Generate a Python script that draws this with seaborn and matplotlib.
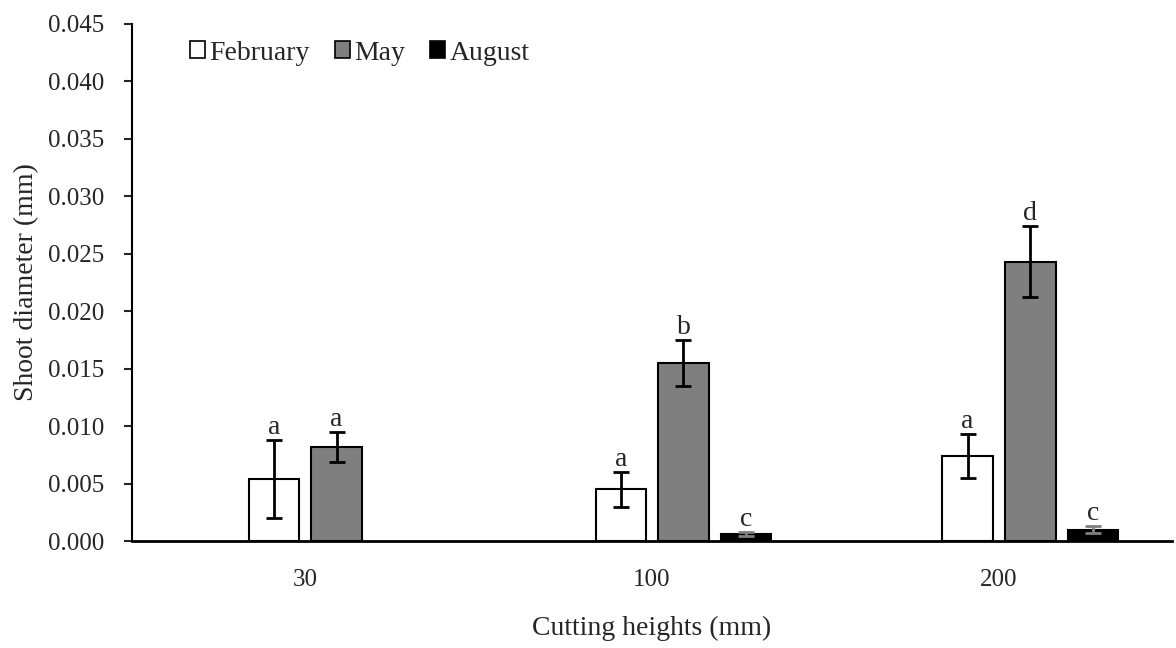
"""
Shoot diameter by cutting height and month, grouped bars with SE bars and letters
"""
import numpy as np
import pandas as pd
import matplotlib
matplotlib.use("Agg")
import matplotlib.pyplot as plt
import seaborn as sns
from matplotlib.patches import Patch

# Values
heights = ["30", "100", "200"]
months = ["February", "May", "August"]
february = [0.0054, 0.0045, 0.0074]
may = [0.0082, 0.0155, 0.0243]
august = [np.nan, 0.0006, 0.0010]
feb_err = [0.0034, 0.0015, 0.0019]
may_err = [0.0013, 0.0020, 0.0031]
aug_err = [np.nan, 0.0002, 0.0003]
feb_letters = ["a", "a", "a"]
may_letters = ["a", "b", "d"]
aug_letters = ["", "c", "c"]

colors = {"": "white", "February": "white", "May": "#7f7f7f", "August": "black"}

# Long table; the blank month keeps the empty first slot that the original leaves in each group
rows = []
for m, vals in zip(months, [february, may, august]):
    for h, v in zip(heights, vals):
        rows.append({"height": h, "month": m, "value": v})
for h in heights:
    rows.append({"height": h, "month": "", "value": 0.0})
df = pd.DataFrame(rows)

sns.set_style("ticks")
plt.rcParams["font.family"] = ["Liberation Serif", "DejaVu Serif"]

fig, ax = plt.subplots(figsize=(11.76, 6.48), dpi=100)
fig.subplots_adjust(left=0.112, right=0.997, bottom=0.165, top=0.963)

sns.barplot(data=df, x="height", y="value", hue="month", order=heights,
            hue_order=[""] + months, palette=colors, errorbar=None,
            width=0.724, gap=0.2, edgecolor="black", linewidth=1.5,
            legend=False, ax=ax)

# first container is the blank slot - hide it
for bar in ax.containers[0]:
    bar.set_visible(False)

# NaN rows are dropped by seaborn, so match bars to categories by position
for cont, errs, letters in zip(ax.containers[1:], [feb_err, may_err, aug_err],
                               [feb_letters, may_letters, aug_letters]):
    for bar in cont:
        xc = bar.get_x() + bar.get_width() / 2
        i = int(round(xc))
        h, e, lab = bar.get_height(), errs[i], letters[i]
        if np.isnan(h) or np.isnan(e):
            bar.set_visible(False)
            continue
        ecol = "#7f7f7f" if bar.get_facecolor()[0] < 0.1 else "black"
        ax.errorbar(xc, h, yerr=e, fmt="none", ecolor=ecol, elinewidth=2,
                    capsize=6, capthick=2)
        ax.annotate(lab, (xc, h + e), xytext=(0, 0), textcoords="offset points",
                    ha="center", va="bottom", fontsize=20)

ax.set_ylim(0, 0.045)
ax.set_yticks(np.arange(0, 0.0451, 0.005))
ax.set_yticklabels([f"{t:.3f}" for t in np.arange(0, 0.0451, 0.005)])
ax.set_xlim(-0.5, 2.5)
ax.set_xlabel("Cutting heights (mm)", fontsize=20, labelpad=18)
ax.set_ylabel("Shoot diameter (mm)", fontsize=20, labelpad=6)
ax.tick_params(axis="y", labelsize=18, length=6, width=1.5, direction="out", pad=14)
ax.tick_params(axis="x", labelsize=18, length=0, pad=20)
sns.despine(ax=ax)
ax.spines["left"].set_linewidth(1.5)
ax.spines["bottom"].set_linewidth(2)
ax.spines["left"].set_color("black")
ax.spines["bottom"].set_color("black")

handles = [Patch(facecolor=colors[m], edgecolor="black", linewidth=1.2, label=m) for m in months]
ax.legend(handles=handles, loc="upper left", bbox_to_anchor=(0.04, 1.0), ncol=3,
          frameon=False, fontsize=20, handlelength=0.55, handleheight=0.55,
          handletextpad=0.15, columnspacing=0.9, borderaxespad=0.2)

fig.savefig("out.png", dpi=100)
